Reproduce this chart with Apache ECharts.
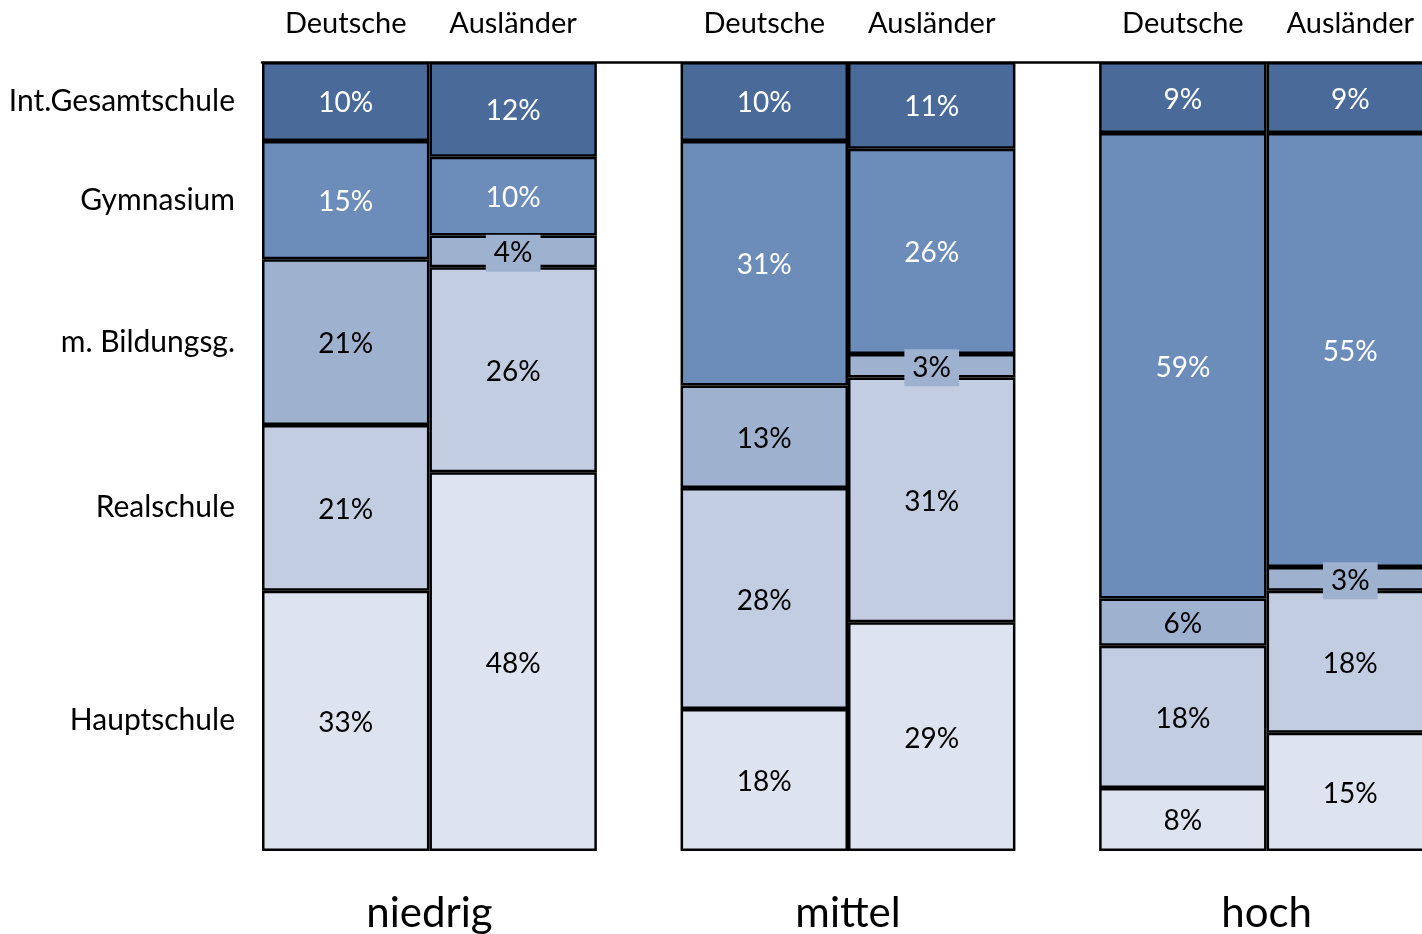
<!DOCTYPE html>
<html>
<head>
<meta charset="utf-8">
<script src="https://cdn.jsdelivr.net/npm/echarts@6/dist/echarts.min.js"></script>
<style>
html,body{margin:0;padding:0;background:#fff;}
#chart{width:1422px;height:934px;}
</style>
</head>
<body>
<div id="chart"></div>
<script>
// ---- data ----
const groups = ['niedrig', 'mittel', 'hoch'];
const origins = ['Deutsche', 'Ausländer'];
const schoolTypes = ['Hauptschule', 'Realschule', 'm. Bildungsg.', 'Gymnasium', 'Int.Gesamtschule'];
// order per type: niedrig D, niedrig A, mittel D, mittel A, hoch D, hoch A
const hauptschule   = [33, 48, 18, 29, 8, 15];
const realschule    = [21, 26, 28, 31, 18, 18];
const mBildung      = [21, 4, 13, 3, 6, 3];
const gymnasium     = [15, 10, 31, 26, 59, 55];
const gesamtschule  = [10, 12, 10, 11, 9, 9];
const seriesValues = [hauptschule, realschule, mBildung, gymnasium, gesamtschule];
const colors = ['#dde4ef', '#c2cde2', '#9eb1cf', '#6c8cba', '#4a6a9a'];
const labelColors = ['#000', '#000', '#000', '#fff', '#fff'];

// ---- layout of slots: each group = [gap, D, mid, A, gap] in half-column units ----
const SLOTS = 15;
const topCats = new Array(SLOTS).fill('');
const bottomCats = new Array(SLOTS).fill('');
const slotIndex = [];
groups.forEach((g, gi) => {
  bottomCats[gi * 5 + 2] = g;
  origins.forEach((o, oi) => {
    const idx = gi * 5 + 1 + oi * 2;
    topCats[idx] = o;
    slotIndex.push(idx);
  });
});

function toSlots(vals) {
  const arr = new Array(SLOTS).fill(null);
  vals.forEach((v, i) => { arr[slotIndex[i]] = v; });
  return arr;
}

// left labels at midpoints of the first column
const firstMid = [];
let cum = 0;
seriesValues.forEach(vals => { firstMid.push(cum + vals[0] / 2); cum += vals[0]; });

const FONT = 'Lato';

const series = schoolTypes.map((name, si) => ({
  name: name,
  type: 'bar',
  stack: 'all',
  barWidth: '200%',
  data: toSlots(seriesValues[si]).map(v => v === null ? null : {
    value: v,
    label: v < 5 ? { backgroundColor: colors[2], padding: [5, 8, 4, 8] } : {}
  }),
  itemStyle: { color: colors[si], borderColor: '#000', borderWidth: 2.5 },
  label: {
    show: true,
    position: 'inside',
    offset: [0, 2],
    formatter: '{c}%',
    color: labelColors[si],
    fontFamily: FONT,
    fontSize: 28
  },
  emphasis: { disabled: true },
  animation: false
}));

const chart = echarts.init(document.getElementById('chart'));
chart.setOption({
  animation: false,
  backgroundColor: '#fff',
  grid: { left: 262, top: 62, width: 1172, height: 789, outerBoundsMode: 'none', containLabel: false },
  xAxis: [
    {
      type: 'category',
      position: 'bottom',
      data: bottomCats,
      boundaryGap: false,
      axisLine: { show: false },
      axisTick: { show: false },
      axisLabel: { interval: 0, margin: 41, fontFamily: FONT, fontSize: 42, color: '#000' }
    },
    {
      type: 'category',
      position: 'top',
      data: topCats,
      boundaryGap: false,
      axisLine: { show: true, lineStyle: { color: '#000', width: 2.5 } },
      axisTick: { show: false },
      axisLabel: { interval: 0, margin: 24, fontFamily: FONT, fontSize: 29, color: '#000' }
    }
  ],
  yAxis: {
    type: 'value',
    min: 0,
    max: 100,
    axisLine: { show: false },
    axisTick: { show: false },
    splitLine: { show: false },
    axisLabel: {
      customValues: firstMid,
      margin: 27,
      padding: [5, 0, 0, 0],
      fontFamily: FONT,
      fontSize: 30,
      color: '#000',
      formatter: function (v) {
        let best = 0, d = Infinity;
        firstMid.forEach((m, i) => { if (Math.abs(m - v) < d) { d = Math.abs(m - v); best = i; } });
        return schoolTypes[best];
      }
    }
  },
  series: series
});
</script>
</body>
</html>
